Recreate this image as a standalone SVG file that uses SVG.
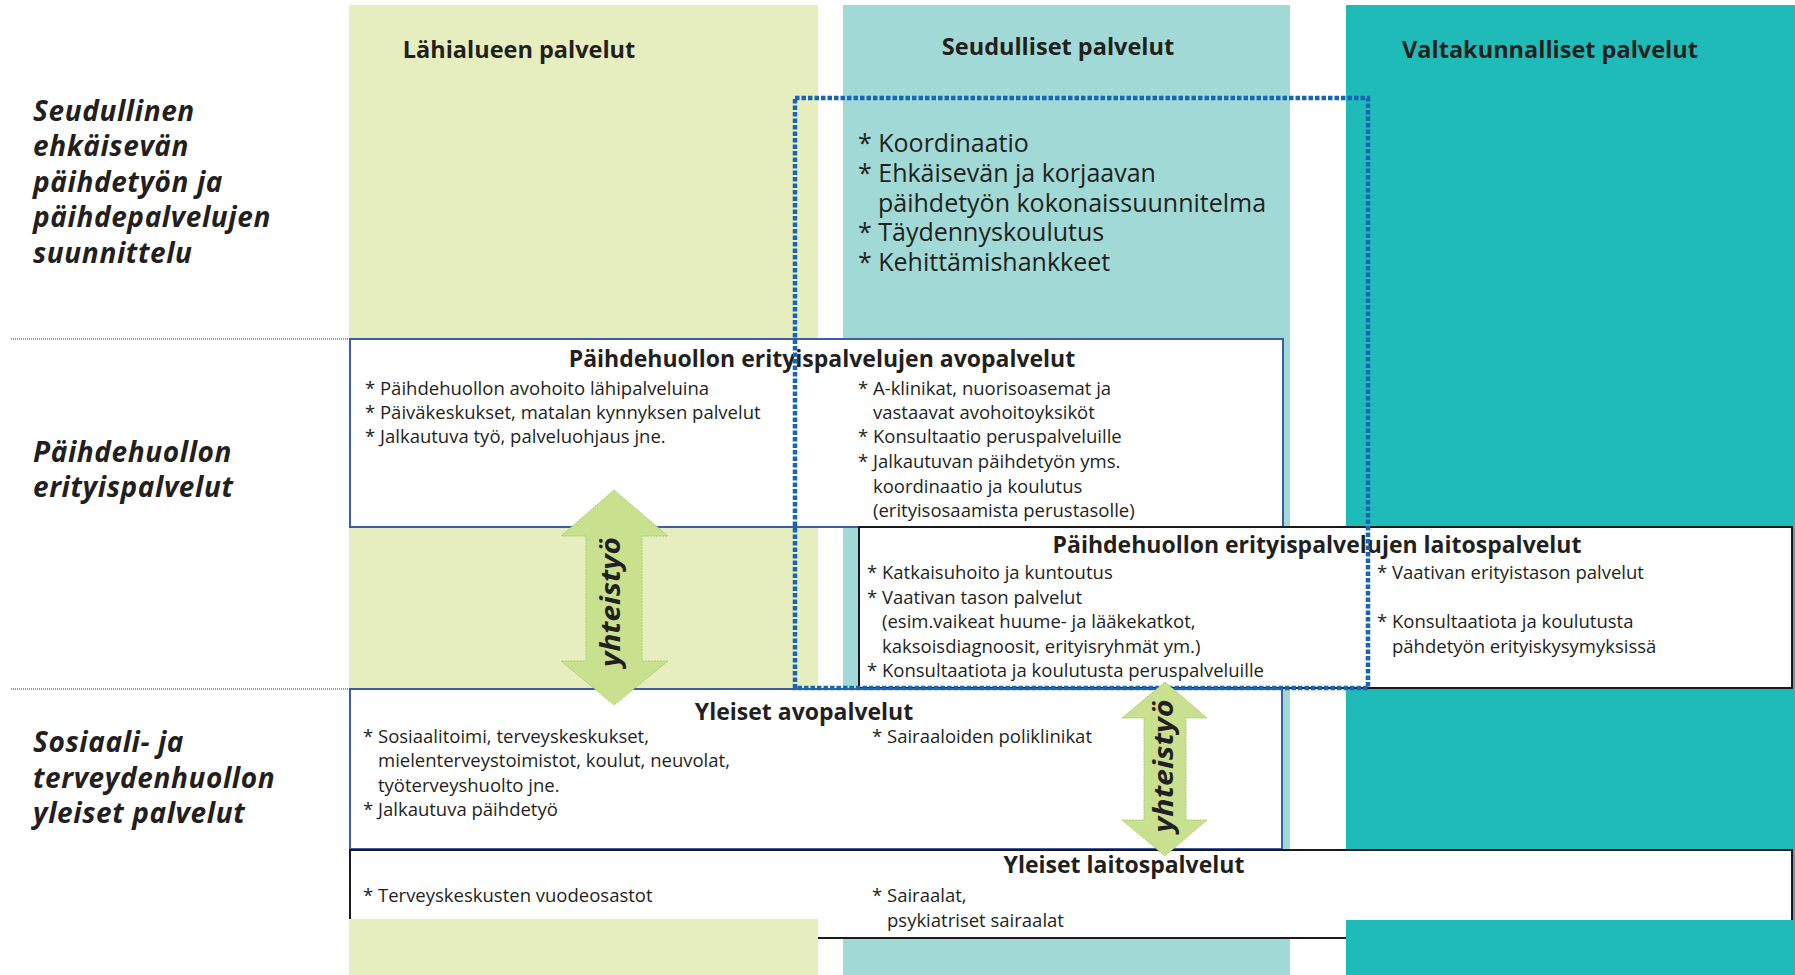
<svg xmlns="http://www.w3.org/2000/svg" width="1795" height="975" viewBox="0 0 1795 975">
<style>
text{font-family:"Open Sans","Noto Sans",sans-serif;fill:#231f20}
.lab{font-size:28px;font-weight:bold;font-style:italic;letter-spacing:0.6px}
.hd{font-size:23.5px;font-weight:bold;text-anchor:middle}
.tt{font-size:23px;font-weight:bold;text-anchor:middle}
.big{font-size:25px}
.it{font-size:18.5px}
.yt{font-size:26px;font-weight:bold;font-style:italic;text-anchor:middle}
.bxb{fill:#fff;stroke:#3d5ba9;stroke-width:2}
.bxk{fill:#fff;stroke:#1a1a1a;stroke-width:2}
.arr{fill:#c9e08f;stroke:#a3d06a;stroke-width:1;stroke-dasharray:2 1}
</style>
<rect width="1795" height="975" fill="#fff"/>
<g id="columns">
<rect x="349" y="5" width="469" height="970" fill="#e6eebf"/>
<rect x="843" y="5" width="447" height="970" fill="#a0d9d5"/>
<rect x="1346" y="5" width="449" height="970" fill="#1fbbb8"/>
</g>
<g id="row-labels">
<text class="lab" x="33" y="120.5">Seudullinen</text>
<text class="lab" x="33" y="156">ehkäisevän</text>
<text class="lab" x="33" y="191.5">päihdetyön ja</text>
<text class="lab" x="33" y="227">päihdepalvelujen</text>
<text class="lab" x="33" y="262.5">suunnittelu</text>
<text class="lab" x="33" y="462">Päihdehuollon</text>
<text class="lab" x="33" y="497">erityispalvelut</text>
<text class="lab" x="33" y="752">Sosiaali- ja</text>
<text class="lab" x="33" y="788">terveydenhuollon</text>
<text class="lab" x="33" y="823">yleiset palvelut</text>
</g>
<g id="separators" stroke="#777" stroke-width="1.5" stroke-dasharray="1 1">
<line x1="11" y1="339" x2="349" y2="339"/>
<line x1="11" y1="689" x2="349" y2="689"/>
</g>
<g id="column-headers">
<text class="hd" x="519" y="58">Lähialueen palvelut</text>
<text class="hd" x="1058" y="55">Seudulliset palvelut</text>
<text class="hd" x="1550" y="58">Valtakunnalliset palvelut</text>
</g>
<g id="seudullinen-suunnittelu">
<text class="big" x="858" y="152">* Koordinaatio</text>
<text class="big" x="858" y="182">* Ehkäisevän ja korjaavan</text>
<text class="big" x="878" y="212">päihdetyön kokonaissuunnitelma</text>
<text class="big" x="858" y="241">* Täydennyskoulutus</text>
<text class="big" x="858" y="271">* Kehittämishankkeet</text>
</g>
<g id="erityis-avopalvelut">
<rect class="bxb" x="350" y="339" width="933" height="188"/>
<text class="tt" x="822" y="367">Päihdehuollon erityispalvelujen avopalvelut</text>
<text class="it" x="365" y="395">* Päihdehuollon avohoito lähipalveluina</text>
<text class="it" x="365" y="419">* Päiväkeskukset, matalan kynnyksen palvelut</text>
<text class="it" x="365" y="443">* Jalkautuva työ, palveluohjaus jne.</text>
<text class="it" x="858" y="395">* A-klinikat, nuorisoasemat ja</text>
<text class="it" x="873" y="419">vastaavat avohoitoyksiköt</text>
<text class="it" x="858" y="443">* Konsultaatio peruspalveluille</text>
<text class="it" x="858" y="468">* Jalkautuvan päihdetyön yms.</text>
<text class="it" x="873" y="493">koordinaatio ja koulutus</text>
<text class="it" x="873" y="517">(erityisosaamista perustasolle)</text>
</g>
<g id="erityis-laitospalvelut">
<rect class="bxk" x="859" y="527" width="933" height="161"/>
<text class="tt" x="1317" y="553">Päihdehuollon erityispalvelujen laitospalvelut</text>
<text class="it" x="867" y="579">* Katkaisuhoito ja kuntoutus</text>
<text class="it" x="867" y="604">* Vaativan tason palvelut</text>
<text class="it" x="882" y="628">(esim.vaikeat huume- ja lääkekatkot,</text>
<text class="it" x="882" y="653">kaksoisdiagnoosit, erityisryhmät ym.)</text>
<text class="it" x="867" y="677">* Konsultaatiota ja koulutusta peruspalveluille</text>
<text class="it" x="1377" y="579">* Vaativan erityistason palvelut</text>
<text class="it" x="1377" y="628">* Konsultaatiota ja koulutusta</text>
<text class="it" x="1392" y="653">pähdetyön erityiskysymyksissä</text>
</g>
<g id="yleiset-avopalvelut">
<rect class="bxb" x="350" y="689" width="932" height="160"/>
<text class="tt" x="804" y="720">Yleiset avopalvelut</text>
<text class="it" x="363" y="743">* Sosiaalitoimi, terveyskeskukset,</text>
<text class="it" x="378" y="767">mielenterveystoimistot, koulut, neuvolat,</text>
<text class="it" x="378" y="792">työterveyshuolto jne.</text>
<text class="it" x="363" y="816">* Jalkautuva päihdetyö</text>
<text class="it" x="872" y="743">* Sairaaloiden poliklinikat</text>
</g>
<g id="yleiset-laitospalvelut">
<rect class="bxk" x="350" y="850" width="1442" height="88"/>
<text class="tt" x="1124" y="873">Yleiset laitospalvelut</text>
<text class="it" x="363" y="902">* Terveyskeskusten vuodeosastot</text>
<text class="it" x="872" y="902">* Sairaalat,</text>
<text class="it" x="887" y="927">psykiatriset sairaalat</text>
</g>
<g id="column-bottoms">
<rect x="349" y="919" width="469" height="56" fill="#e6eebf"/>
<rect x="843" y="940" width="447" height="35" fill="#a0d9d5"/>
<rect x="1346" y="920" width="449" height="55" fill="#1fbbb8"/>
</g>
<g id="seudullinen-alue">
<rect x="795" y="98" width="573" height="590" fill="none" stroke="#1666b8" stroke-width="4.5" stroke-dasharray="4.5 2"/>
</g>
<g id="connectors">
<g id="yhteistyo-1">
<polygon class="arr" points="614,490 668,536 642,536 642,661 668,661 614,705 561,661 586,661 586,536 561,536"/>
<text class="yt" transform="translate(620 602) rotate(-90)" textLength="130" lengthAdjust="spacingAndGlyphs">yhteistyö</text>
</g>
<g id="yhteistyo-2">
<polygon class="arr" points="1165,682 1207,718 1186,718 1186,820 1207,820 1165,856 1122,820 1144,820 1144,718 1122,718"/>
<text class="yt" transform="translate(1173 766) rotate(-90)" textLength="133" lengthAdjust="spacingAndGlyphs">yhteistyö</text>
</g>
</g>
</svg>
